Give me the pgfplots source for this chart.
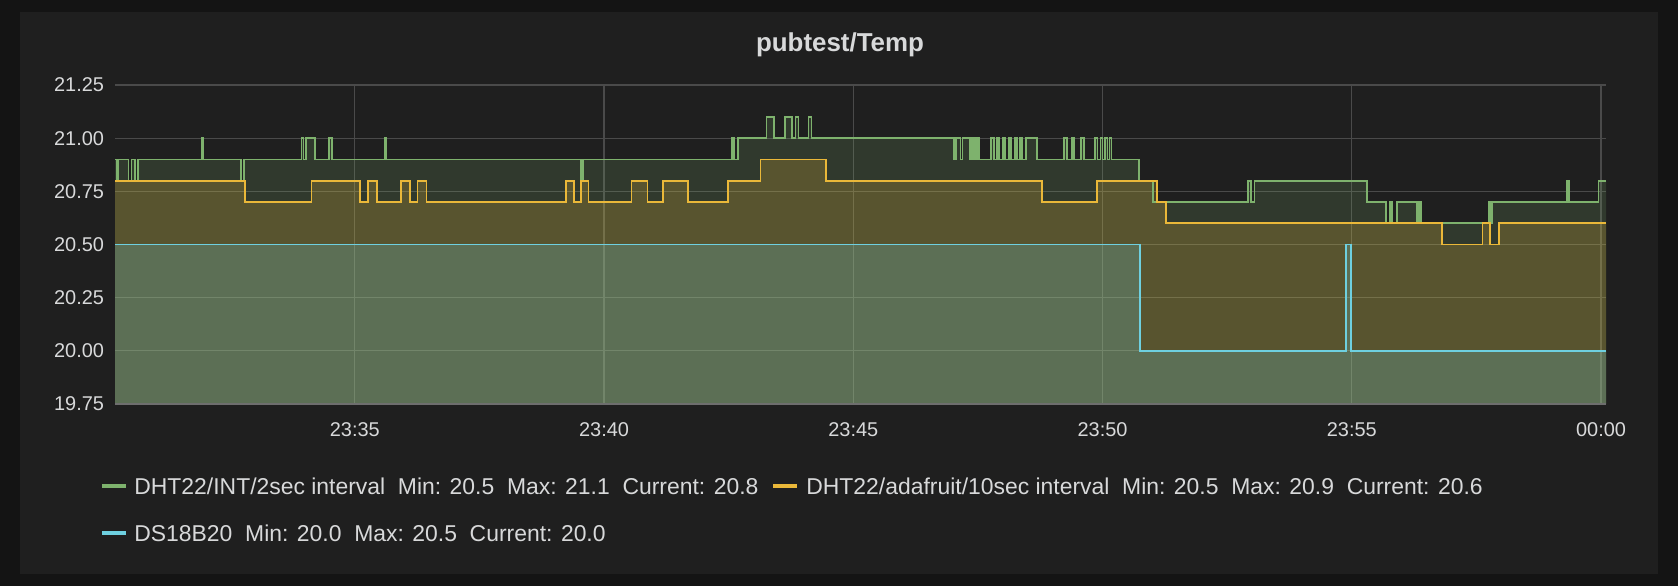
\documentclass[border=0pt]{standalone}
\usepackage{pgfplots}
\pgfplotsset{compat=1.18}
\usepackage{pgfplotstable}
\usepackage{fontspec}
\setmainfont{Liberation Sans}
\definecolor{gG}{HTML}{7EB26D}
\definecolor{gY}{HTML}{EAB839}
\definecolor{gB}{HTML}{6ED0E0}
\definecolor{bgP}{HTML}{1F1F1F}
\definecolor{bgO}{HTML}{141414}
\definecolor{txt}{HTML}{D8D9DA}
\definecolor{grd}{HTML}{4A4A4A}
\pgfplotstableread{
x y
30.19 20.9
30.22 20.8
30.25 20.9
30.46 20.8
30.52 20.9
30.59 20.8
30.65 20.9
31.93 21.0
31.96 20.9
32.71 20.8
32.77 20.9
33.93 21.0
33.97 20.9
34.02 21.0
34.20 20.9
34.49 21.0
34.54 20.9
35.60 21.0
35.63 20.9
39.53 20.8
39.58 20.9
42.56 21.0
42.61 20.9
42.69 21.0
43.26 21.1
43.41 21.0
43.63 21.1
43.77 21.0
43.84 21.1
43.90 21.0
44.10 21.1
44.16 21.0
47.02 20.9
47.06 21.0
47.15 20.9
47.19 21.0
47.34 20.9
47.37 21.0
47.40 20.9
47.43 21.0
47.46 20.9
47.49 21.0
47.52 20.9
47.77 21.0
47.82 20.9
47.88 21.0
47.93 20.9
48.00 21.0
48.05 20.9
48.12 21.0
48.17 20.9
48.24 21.0
48.29 20.9
48.34 21.0
48.39 20.9
48.46 21.0
48.69 20.9
49.23 21.0
49.28 20.9
49.38 21.0
49.43 20.9
49.57 21.0
49.63 20.9
49.85 21.0
49.90 20.9
49.96 21.0
50.00 20.9
50.05 21.0
50.10 20.9
50.14 21.0
50.18 20.9
50.73 20.8
51.01 20.7
52.92 20.8
52.97 20.7
53.05 20.8
55.30 20.7
55.68 20.6
55.76 20.7
55.80 20.6
55.90 20.7
56.30 20.6
56.35 20.7
56.39 20.6
57.75 20.7
57.78 20.6
57.82 20.7
59.32 20.8
59.35 20.7
59.95 20.8
60.10 20.8
}\tabG
\pgfplotstableread{
x y
30.19 20.8
32.80 20.7
34.13 20.8
35.10 20.7
35.27 20.8
35.44 20.7
35.93 20.8
36.10 20.7
36.26 20.8
36.44 20.7
39.23 20.8
39.39 20.7
39.54 20.8
39.69 20.7
40.55 20.8
40.87 20.7
41.19 20.8
41.68 20.7
42.48 20.8
43.14 20.9
44.46 20.8
48.79 20.7
49.89 20.8
51.09 20.7
51.27 20.6
56.81 20.5
57.62 20.6
57.78 20.5
57.95 20.6
60.10 20.6
}\tabY
\pgfplotstableread{
x y
30.19 20.5
50.75 20.0
54.88 20.5
54.98 20.0
60.10 20.0
}\tabB
\begin{document}
\begin{tikzpicture}[x=1bp,y=1bp]
\fill[bgO] (0,0) rectangle (839,293);
\fill[bgP] (10,6) rectangle (829,287);
\begin{axis}[at={(57.5bp,91bp)}, anchor=south west, scale only axis,
  width=745.5bp, height=159.5bp,
  xmin=30.19, xmax=60.1, ymin=19.75, ymax=21.25,
  xtick={35,40,45,50,55,60},
  xticklabels={23:35,23:40,23:45,23:50,23:55,00:00},
  ytick={19.75,20,20.25,20.5,20.75,21,21.25},
  yticklabel style={/pgf/number format/.cd,fixed,fixed zerofill,precision=2},
  /pgf/number format/assume math mode=true,
  ticklabel style={font=\fontsize{10}{12}\selectfont, text=txt},
  major tick length=0pt,
  grid=major, grid style={grd, line width=0.6pt},
  axis line style={draw=none},
  xtick pos=bottom, ytick pos=left,
  xticklabel shift=6bp, yticklabel shift=2bp,
  const plot mark left, no markers,
  axis background/.style={fill=bgP},
]
\addplot[draw=none, fill=gG, fill opacity=0.18] table {\tabG} \closedcycle;
\addplot[draw=none, fill=gY, fill opacity=0.22] table {\tabY} \closedcycle;
\addplot[draw=none, fill=gB, fill opacity=0.22] table {\tabB} \closedcycle;
\addplot[gG, line width=0.9pt] table {\tabG};
\addplot[gY, line width=0.9pt] table {\tabY};
\addplot[gB, line width=0.9pt] table {\tabB};
\draw[grd!80!white, line width=1pt] (rel axis cs:0,0) -- (rel axis cs:1,0);
\end{axis}
\node[font=\bfseries\fontsize{13}{15}\selectfont, text=txt] at (420,270.5) {pubtest/Temp};
\begin{scope}[every node/.style={anchor=west, font=\fontsize{11.5}{13}\selectfont, text=txt, inner sep=0pt}]
\draw[gG, line width=2.5pt] (51,50) -- (63,50);
\node at (67,50) {DHT22/INT/2sec interval\ \ Min: 20.5\ \ Max: 21.1\ \ Current: 20.8};
\draw[gY, line width=2.5pt] (386.5,50) -- (398.5,50);
\node at (403,50) {DHT22/adafruit/10sec interval\ \ Min: 20.5\ \ Max: 20.9\ \ Current: 20.6};
\draw[gB, line width=2.5pt] (51,26.5) -- (63,26.5);
\node at (67,26.5) {DS18B20\ \ Min: 20.0\ \ Max: 20.5\ \ Current: 20.0};
\end{scope}
\end{tikzpicture}
\end{document}
